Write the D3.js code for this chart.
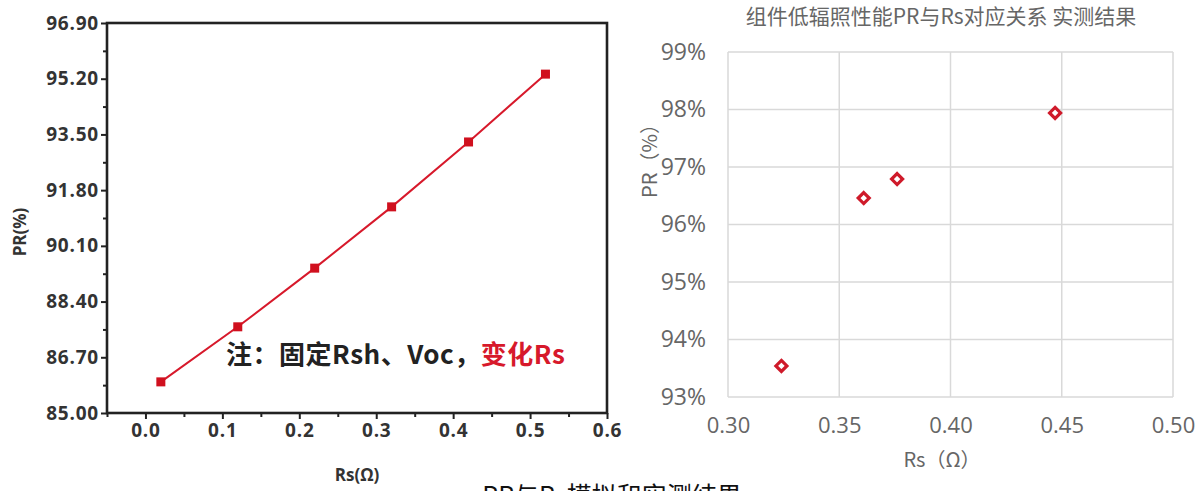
<!DOCTYPE html>
<html lang="zh">
<head>
<meta charset="UTF-8">
<title>PR与Rs模拟和实测结果</title>
<script src="https://d3js.org/d3.v7.min.js"></script>
<style>
  body { margin: 0; background: #fff; }
  svg { display: block; }
</style>
</head>
<body>
<svg width="1202" height="491"></svg>
<script>
const width = 1202, height = 491;
const svg = d3.select("svg");

// simulated (left)
const simRs = [0.02, 0.12, 0.22, 0.32, 0.42, 0.52];
const simPR = [85.95, 87.63, 89.42, 91.29, 93.27, 95.34];
const simYTicks = [85.00, 86.70, 88.40, 90.10, 91.80, 93.50, 95.20, 96.90];
const simXTicks = [0.0, 0.1, 0.2, 0.3, 0.4, 0.5, 0.6];

// measured (right)
const meaRs = [0.324, 0.361, 0.376, 0.447];
const meaPR = [93.54, 96.46, 96.79, 97.94];
const meaYTicks = [93, 94, 95, 96, 97, 98, 99];
const meaXTicks = [0.30, 0.35, 0.40, 0.45, 0.50];

const red = "#d7192b";

// ---------- left chart ----------
const L = { left: 107, right: 607, top: 23, bottom: 413 };
const x1 = d3.scaleLinear().domain([-0.05, 0.6]).range([L.left, L.right]);
const y1 = d3.scaleLinear().domain([85, 96.9]).range([L.bottom, L.top]);
const boldFont = "'Open Sans', 'Noto Sans CJK SC', sans-serif";

const g1 = svg.append("g");

// minor ticks
const yMinor = d3.range(simYTicks.length - 1).map(i => (simYTicks[i] + simYTicks[i + 1]) / 2);
const xMinor = [-0.05, 0.05, 0.15, 0.25, 0.35, 0.45, 0.55];

const yAx1 = d3.axisLeft(y1).tickValues(simYTicks).tickFormat(d3.format(".2f")).tickSize(6).tickPadding(2);
const xAx1 = d3.axisBottom(x1).tickValues(simXTicks).tickFormat(d3.format(".1f")).tickSize(6).tickPadding(5);

const ya = g1.append("g").attr("transform", `translate(${L.left},0)`).call(yAx1);
const xa = g1.append("g").attr("transform", `translate(0,${L.bottom})`).call(xAx1);
g1.append("g").attr("transform", `translate(${L.left},0)`)
  .call(d3.axisLeft(y1).tickValues(yMinor).tickSize(4).tickFormat(""))
  .select(".domain").remove();
g1.append("g").attr("transform", `translate(0,${L.bottom})`)
  .call(d3.axisBottom(x1).tickValues(xMinor).tickSize(4).tickFormat(""))
  .select(".domain").remove();

g1.selectAll(".tick line").attr("stroke", "#222").attr("stroke-width", 2);
[ya, xa].forEach(a => {
  a.select(".domain").remove();
  a.selectAll("text").attr("font-family", boldFont).attr("font-weight", "bold")
    .attr("font-size", 19).attr("fill", "#333").attr("letter-spacing", 0.8);
});

// frame
g1.append("rect")
  .attr("x", L.left).attr("y", L.top)
  .attr("width", L.right - L.left).attr("height", L.bottom - L.top)
  .attr("fill", "none").attr("stroke", "#222").attr("stroke-width", 2.6);

// line + markers
const sim = simRs.map((r, i) => ({ r, pr: simPR[i] }));
g1.append("path").datum(sim)
  .attr("fill", "none").attr("stroke", red).attr("stroke-width", 2)
  .attr("d", d3.line().x(d => x1(d.r)).y(d => y1(d.pr)));
g1.selectAll("rect.pt").data(sim).enter().append("rect").attr("class", "pt")
  .attr("x", d => x1(d.r) - 4.5).attr("y", d => y1(d.pr) - 4.5)
  .attr("width", 9).attr("height", 9).attr("fill", "#d0101e");

// axis titles
g1.append("text")
  .attr("transform", `translate(26,${232}) rotate(-90)`)
  .attr("text-anchor", "middle").attr("font-family", boldFont).attr("font-weight", "bold")
  .attr("font-size", 17).attr("fill", "#333").text("PR(%)");
g1.append("text")
  .attr("x", 357).attr("y", 481).attr("text-anchor", "middle")
  .attr("font-family", boldFont).attr("font-weight", "bold")
  .attr("font-size", 17).attr("fill", "#333").text("Rs(Ω)");

// note
const note = g1.append("text").attr("x", 226).attr("y", 364)
  .attr("font-family", "'Noto Sans CJK SC', sans-serif").attr("font-weight", "bold")
  .attr("font-size", 26).attr("fill", "#222").attr("letter-spacing", 0.5);
note.append("tspan").text("注：固定Rsh、Voc，");
note.append("tspan").attr("fill", red).text("变化Rs");

// ---------- right chart ----------
const R = { left: 728, right: 1173, top: 52, bottom: 397 };
const x2 = d3.scaleLinear().domain([0.30, 0.50]).range([R.left, R.right]);
const y2 = d3.scaleLinear().domain([93, 99]).range([R.bottom, R.top]);
const lightFont = "'Open Sans', 'Noto Sans CJK SC', sans-serif";
const g2 = svg.append("g");

g2.append("g").selectAll("line").data(meaYTicks).enter().append("line")
  .attr("x1", R.left).attr("x2", R.right)
  .attr("y1", d => y2(d)).attr("y2", d => y2(d))
  .attr("stroke", "#d9d9d9").attr("stroke-width", 1.5);
g2.append("g").selectAll("line").data(meaXTicks).enter().append("line")
  .attr("y1", R.top).attr("y2", R.bottom)
  .attr("x1", d => x2(d)).attr("x2", d => x2(d))
  .attr("stroke", "#d9d9d9").attr("stroke-width", 1.5);

const yAx2 = d3.axisLeft(y2).tickValues(meaYTicks).tickFormat(d => d + "%").tickSize(0).tickPadding(22);
const xAx2 = d3.axisBottom(x2).tickValues(meaXTicks).tickFormat(d3.format(".2f")).tickSize(0).tickPadding(20);
const ya2 = g2.append("g").attr("transform", `translate(${R.left},0)`).call(yAx2);
const xa2 = g2.append("g").attr("transform", `translate(0,${R.bottom})`).call(xAx2);
[ya2, xa2].forEach(a => {
  a.select(".domain").remove();
  a.selectAll("text").attr("font-family", lightFont).attr("font-size", 23).attr("fill", "#666");
});
xa2.selectAll("text").attr("font-size", 22);

// diamonds
const mea = meaRs.map((r, i) => ({ r, pr: meaPR[i] }));
g2.selectAll("path.pt").data(mea).enter().append("path").attr("class", "pt")
  .attr("transform", d => `translate(${x2(d.r)},${y2(d.pr)})`)
  .attr("d", "M0,-5.5L5.5,0L0,5.5L-5.5,0Z")
  .attr("fill", "#fff").attr("stroke", "#cf1a2a").attr("stroke-width", 3.2);

// titles
g2.append("text").attr("x", 941).attr("y", 24).attr("text-anchor", "middle")
  .attr("font-family", "'Noto Sans CJK SC', sans-serif").attr("font-size", 21).attr("fill", "#666")
  .text("组件低辐照性能PR与Rs对应关系 实测结果");
g2.append("text").attr("x", 942).attr("y", 467).attr("text-anchor", "middle")
  .attr("font-family", "'Noto Sans CJK SC', sans-serif").attr("font-size", 20).attr("fill", "#666")
  .text("Rs（Ω）");
g2.append("text")
  .attr("transform", `translate(657,156) rotate(-90)`)
  .attr("text-anchor", "middle").attr("font-family", "'Noto Sans CJK SC', sans-serif")
  .attr("font-size", 20).attr("fill", "#666").text("PR（%）");

// caption (cut by the bottom edge, as in the source)
svg.append("text").attr("x", 612).attr("y", 505).attr("text-anchor", "middle")
  .attr("font-family", "'Noto Sans CJK SC', sans-serif").attr("font-size", 25).attr("fill", "#111")
  .text("PR与Rs模拟和实测结果");
</script>
</body>
</html>
